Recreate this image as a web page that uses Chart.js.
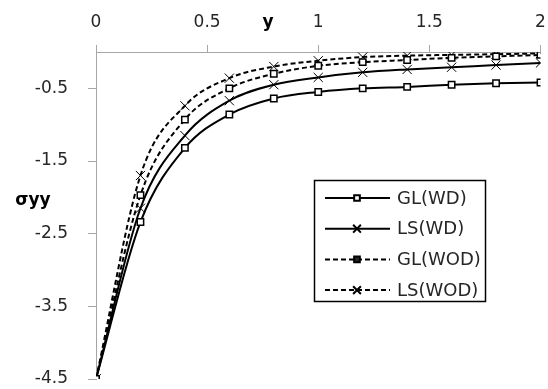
<!DOCTYPE html>
<html>
<head>
<meta charset="utf-8">
<script src="https://cdn.jsdelivr.net/npm/chart.js@4.4.1/dist/chart.umd.min.js"></script>
<style>
  body { margin: 0; background: #fff; }
  canvas { display: block; }
</style>
</head>
<body>
<canvas id="Chart_SYY" width="548" height="389"></canvas>
<script>
// valeurs
const xValues = [0, 0.2, 0.4, 0.6, 0.8, 1.0, 1.2, 1.4, 1.6, 1.8, 2.0];
const glWD  = [-4.5, -2.34, -1.32, -0.86, -0.64, -0.55, -0.50, -0.48, -0.45, -0.43, -0.42];
const lsWD  = [-4.5, -2.15, -1.15, -0.67, -0.45, -0.35, -0.28, -0.24, -0.21, -0.18, -0.15];
const glWOD = [-4.5, -1.97, -0.93, -0.50, -0.30, -0.19, -0.14, -0.11, -0.08, -0.06, -0.04];
const lsWOD = [-4.5, -1.70, -0.74, -0.36, -0.20, -0.12, -0.07, -0.05, -0.04, -0.03, -0.02];
const seriesNames = ['GL(WD)', 'LS(WD)', 'GL(WOD)', 'LS(WOD)'];
const xTicks = [0, 0.5, 1, 1.5, 2];
const yTicks = [-4.5, -3.5, -2.5, -1.5, -0.5];

const AXIS_GREY = '#a6a6a6';
const TEXT = '#262626';

function points(ys) {
    return xValues.map((x, i) => ({ x: x, y: ys[i] }));
}

function serie(label, ys, marker, dashed) {
    return {
        label: label,
        data: points(ys),
        borderColor: '#000',
        borderWidth: 2,
        borderDash: dashed ? [5, 3] : [],
        cubicInterpolationMode: 'monotone',
        pointStyle: marker,
        pointRadius: marker === 'rect' ? 4.5 : 6.5,
        pointBorderWidth: marker === 'rect' ? 1.5 : 1,
        pointBorderColor: '#000',
        pointBackgroundColor: '#fff',
        fill: false
    };
}

function noPadding(scale) {
    scale.paddingLeft = 0;
    scale.paddingRight = 0;
    scale.paddingTop = 0;
    scale.paddingBottom = 0;
}

// légende encadrée dans la zone du graphique
const legendBox = {
    id: 'legendBox',
    afterDatasetsDraw(chart) {
        const ctx = chart.ctx;
        ctx.save();
        ctx.fillStyle = '#fff';
        ctx.fillRect(314, 180, 172, 122);
        ctx.strokeStyle = '#000';
        ctx.lineWidth = 1.5;
        ctx.strokeRect(314.5, 180.5, 171, 121);
        chart.data.datasets.forEach((ds, i) => {
            const y = 198 + i * 30.7;
            ctx.strokeStyle = '#000';
            ctx.lineWidth = 2;
            ctx.setLineDash(ds.borderDash);
            ctx.beginPath();
            ctx.moveTo(325, y);
            ctx.lineTo(390, y);
            ctx.stroke();
            ctx.setLineDash([]);
            Chart.helpers.drawPoint(ctx, {
                pointStyle: ds.pointStyle,
                radius: ds.pointStyle === 'rect' ? 4 : 5.5,
                borderWidth: ds.pointBorderWidth
            }, 357, y);
            ctx.fillStyle = TEXT;
            ctx.font = '18px "DejaVu Sans"';
            ctx.textBaseline = 'middle';
            ctx.textAlign = 'left';
            ctx.fillText(ds.label, 397, y + 1);
        });
        ctx.restore();
    }
};

// titres des axes (horizontaux, comme sur la figure)
const axisTitles = {
    id: 'axisTitles',
    afterDraw(chart) {
        const ctx = chart.ctx;
        ctx.save();
        ctx.fillStyle = '#000';
        ctx.font = 'bold 17px "DejaVu Sans"';
        ctx.textAlign = 'center';
        ctx.textBaseline = 'alphabetic';
        ctx.fillText('y', 268, 27);
        ctx.fillText('σyy', 33, 205);
        ctx.restore();
    }
};

const SyyChart = new Chart(document.getElementById('Chart_SYY').getContext('2d'), {
    type: 'line',
    data: {
        datasets: [
            serie(seriesNames[0], glWD, 'rect', false),
            serie(seriesNames[1], lsWD, 'crossRot', false),
            serie(seriesNames[2], glWOD, 'rect', true),
            serie(seriesNames[3], lsWOD, 'crossRot', true)
        ]
    },
    options: {
        responsive: false,
        animation: false,
        devicePixelRatio: 1,
        layout: { padding: { top: 0, left: 0, right: 6, bottom: 10 } },
        plugins: {
            legend: { display: false },
            tooltip: { enabled: false }
        },
        scales: {
            x: {
                type: 'linear',
                position: 'top',
                min: 0,
                max: 2,
                afterFit: (scale) => { scale.height = 52; noPadding(scale); },
                afterBuildTicks: (scale) => { scale.ticks = xTicks.map(v => ({ value: v })); },
                grid: { drawOnChartArea: false, drawTicks: true, tickLength: 7, color: AXIS_GREY },
                border: { color: AXIS_GREY, width: 1 },
                ticks: {
                    color: TEXT,
                    font: { family: 'DejaVu Sans', size: 17 },
                    padding: 12,
                    maxRotation: 0,
                    callback: (v) => String(v)
                }
            },
            y: {
                type: 'linear',
                min: -4.5,
                max: 0,
                afterFit: (scale) => { scale.width = 96; noPadding(scale); },
                afterBuildTicks: (scale) => { scale.ticks = yTicks.map(v => ({ value: v })); },
                grid: { drawOnChartArea: false, drawTicks: true, tickLength: 8, color: AXIS_GREY },
                border: { color: AXIS_GREY, width: 1 },
                ticks: {
                    color: TEXT,
                    font: { family: 'DejaVu Sans', size: 17 },
                    padding: 20,
                    callback: (v) => String(v)
                }
            }
        }
    },
    plugins: [legendBox, axisTitles]
});
</script>
</body>
</html>
